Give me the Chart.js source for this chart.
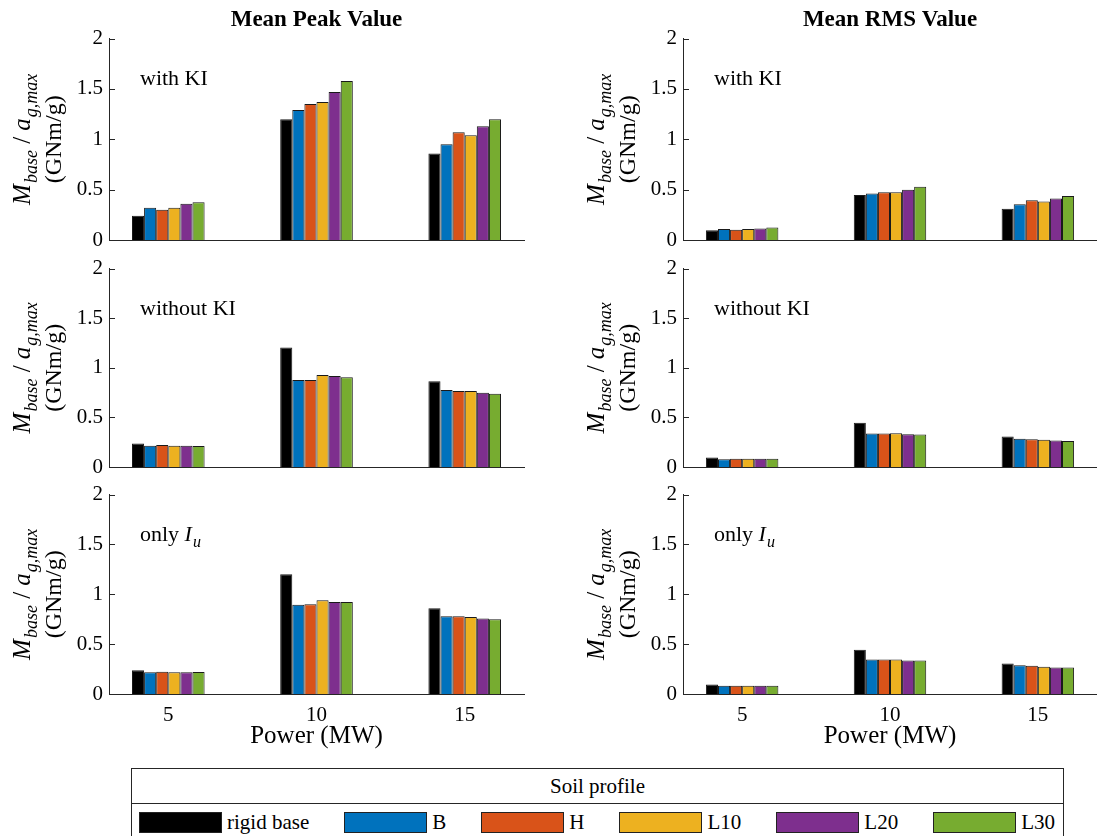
<!DOCTYPE html>
<html>
<head>
<meta charset="utf-8">
<script src="https://cdn.jsdelivr.net/npm/chart.js@4/dist/chart.umd.min.js"></script>
<style>
  html, body { margin: 0; padding: 0; background: #fff; overflow: hidden; }
  body { width: 1097px; height: 836px; position: relative; font-family: "Liberation Serif", "Times New Roman", serif; }
  .panel { position: absolute; }
  #legend {
    position: absolute; left: 131px; top: 768px; width: 933px; height: 90px;
    border: 1px solid #262626; box-sizing: border-box; background: #fff;
  }
  #legend .lg-title {
    height: 34px; line-height: 34px; text-align: center; font-size: 21px;
    border-bottom: 1px solid #262626; color: #000;
  }
  #legend .lg-items {
    display: flex; justify-content: space-between; padding: 6px 8px 0 7px;
  }
  #legend .lg-item { display: flex; align-items: center; font-size: 21px; color: #000; }
  #legend .lg-swatch {
    width: 83px; height: 21px; box-sizing: border-box; border: 1px solid #222; margin-right: 5px;
  }
</style>
</head>
<body>
<div id="legend"></div>
<script>
// Grouped bar panels: mean peak / RMS base moment per turbine power and soil profile

const powers = [5, 10, 15];
const soilProfiles = ['rigid base', 'B', 'H', 'L10', 'L20', 'L30'];
const soilColors = ['#000000', '#0072BD', '#D95319', '#EDB120', '#7E2F8E', '#77AC30'];
const columnTitles = ['Mean Peak Value', 'Mean RMS Value'];
const yTicks = [0, 0.5, 1, 1.5, 2];

// one row per soil profile, one column per power (5, 10, 15 MW)
const peakWithKI = [
    [0.24, 1.20, 0.86],
    [0.32, 1.29, 0.95],
    [0.30, 1.35, 1.07],
    [0.32, 1.37, 1.04],
    [0.36, 1.47, 1.13],
    [0.375, 1.58, 1.20]
];
const rmsWithKI = [
    [0.096, 0.448, 0.31],
    [0.109, 0.461, 0.356],
    [0.102, 0.474, 0.395],
    [0.109, 0.474, 0.382],
    [0.115, 0.50, 0.412],
    [0.125, 0.53, 0.438]
];
const peakWithoutKI = [
    [0.238, 1.205, 0.865],
    [0.215, 0.878, 0.776],
    [0.221, 0.878, 0.766],
    [0.215, 0.927, 0.766],
    [0.215, 0.917, 0.749],
    [0.211, 0.904, 0.739]
];
const rmsWithoutKI = [
    [0.096, 0.446, 0.307],
    [0.079, 0.337, 0.284],
    [0.083, 0.337, 0.280],
    [0.083, 0.340, 0.274],
    [0.083, 0.330, 0.267],
    [0.083, 0.327, 0.261]
];
const peakOnlyIu = [
    [0.237, 1.20, 0.859],
    [0.217, 0.895, 0.78],
    [0.224, 0.901, 0.78],
    [0.217, 0.941, 0.773],
    [0.217, 0.924, 0.757],
    [0.22, 0.924, 0.75]
];
const rmsOnlyIu = [
    [0.095, 0.444, 0.306],
    [0.082, 0.345, 0.289],
    [0.082, 0.345, 0.283],
    [0.082, 0.345, 0.273],
    [0.082, 0.336, 0.266],
    [0.082, 0.336, 0.266]
];

const notes = [
    [{ text: 'with KI' }],
    [{ text: 'without KI' }],
    [{ text: 'only ' }, { text: 'I', italic: true }, { text: 'u', italic: true, sub: true }]
];

const panels = [
    { row: 0, col: 0, values: peakWithKI },
    { row: 0, col: 1, values: rmsWithKI },
    { row: 1, col: 0, values: peakWithoutKI },
    { row: 1, col: 1, values: rmsWithoutKI },
    { row: 2, col: 0, values: peakOnlyIu },
    { row: 2, col: 1, values: rmsOnlyIu }
];

// page layout of the grid (canvases overlap a little, they are transparent)
const columns = [
    { left: 0, width: 530, padRight: 6 },
    { left: 574, width: 523, padRight: 0 }
];
const rows = [
    { top: 0, height: 260, padTop: 0, padBottom: 20 },
    { top: 250, height: 237, padTop: 15, padBottom: 20 },
    { top: 476, height: 275, padTop: 15, padBottom: 0 }
];

const FONT = '"Liberation Serif", "Times New Roman", serif';
const AXIS_COLOR = '#262626';

// draw text made of plain / italic / subscript pieces, left aligned at baseline y
function fontFor(part, size) {
    const s = part.sub ? Math.round(size * 0.72) : size;
    return (part.italic ? 'italic ' : '') + s + 'px ' + FONT;
}
function measureParts(ctx, parts, size) {
    let w = 0;
    parts.forEach(p => {
        ctx.font = fontFor(p, size);
        w += ctx.measureText(p.text).width + (p.italic && !p.sub ? 1 : 0);
    });
    return w;
}
function drawParts(ctx, parts, x, y, size) {
    ctx.textBaseline = 'alphabetic';
    ctx.textAlign = 'left';
    parts.forEach(p => {
        ctx.font = fontFor(p, size);
        const dy = p.sub ? size * 0.28 : 0;
        ctx.fillText(p.text, x, y + dy);
        x += ctx.measureText(p.text).width + (p.italic && !p.sub ? 1 : 0);
    });
}

const yLabelParts = [
    { text: 'M', italic: true },
    { text: 'base', italic: true, sub: true },
    { text: ' / ' },
    { text: 'a', italic: true },
    { text: 'g,max', italic: true, sub: true }
];

// inward y ticks, rotated y label and the panel note
const panelDecor = {
    id: 'panelDecor',
    afterDraw(chart, args, opts) {
        const { ctx, chartArea } = chart;
        const yScale = chart.scales.y;
        ctx.save();
        ctx.strokeStyle = AXIS_COLOR;
        ctx.lineWidth = 1;
        yScale.ticks.forEach(t => {
            const py = Math.round(yScale.getPixelForValue(t.value)) + 0.5;
            ctx.beginPath();
            ctx.moveTo(chartArea.left, py);
            ctx.lineTo(chartArea.left + 6, py);
            ctx.stroke();
        });

        const midY = (chartArea.top + chartArea.bottom) / 2;
        ctx.fillStyle = '#000';
        // first label line
        ctx.save();
        ctx.translate(chartArea.left - 86, midY);
        ctx.rotate(-Math.PI / 2);
        const w1 = measureParts(ctx, yLabelParts, 25);
        drawParts(ctx, yLabelParts, -w1 / 2, 7, 25);
        ctx.restore();
        // second label line
        ctx.save();
        ctx.translate(chartArea.left - 54, midY);
        ctx.rotate(-Math.PI / 2);
        ctx.font = '24px ' + FONT;
        ctx.textAlign = 'center';
        ctx.textBaseline = 'middle';
        ctx.fillText('(GNm/g)', 0, 0);
        ctx.restore();

        if (opts.parts) {
            drawParts(ctx, opts.parts, chartArea.left + 31, chartArea.top + 46, 22);
        }
        ctx.restore();
    }
};

function buildLegend() {
    const legend = document.getElementById('legend');
    const title = document.createElement('div');
    title.className = 'lg-title';
    title.textContent = 'Soil profile';
    legend.appendChild(title);
    const items = document.createElement('div');
    items.className = 'lg-items';
    soilProfiles.forEach((name, i) => {
        const item = document.createElement('div');
        item.className = 'lg-item';
        const sw = document.createElement('span');
        sw.className = 'lg-swatch';
        sw.style.background = soilColors[i];
        item.appendChild(sw);
        const label = document.createElement('span');
        label.textContent = name;
        item.appendChild(label);
        items.appendChild(item);
    });
    legend.appendChild(items);
}

function createPanel(panel) {
    const col = columns[panel.col];
    const row = rows[panel.row];
    const isBottom = panel.row === rows.length - 1;
    const isTop = panel.row === 0;

    const canvas = document.createElement('canvas');
    canvas.className = 'panel';
    canvas.width = col.width;
    canvas.height = row.height;
    canvas.style.left = col.left + 'px';
    canvas.style.top = row.top + 'px';
    canvas.style.width = col.width + 'px';
    canvas.style.height = row.height + 'px';
    document.body.appendChild(canvas);

    const datasets = soilProfiles.map((name, i) => ({
        label: name,
        data: powers.map((p, j) => ({ x: p, y: panel.values[i][j] })),
        backgroundColor: soilColors[i],
        borderColor: '#1a1a1a',
        borderWidth: 1,
        barPercentage: 1,
        categoryPercentage: 0.49
    }));

    new Chart(canvas, {
        type: 'bar',
        data: { datasets: datasets },
        options: {
            responsive: false,
            animation: false,
            events: [],
            layout: {
                padding: { top: row.padTop, bottom: row.padBottom, left: 0, right: col.padRight }
            },
            plugins: {
                legend: { display: false },
                tooltip: { enabled: false },
                title: {
                    display: isTop,
                    text: columnTitles[panel.col],
                    fullSize: false,
                    color: '#000',
                    font: { family: FONT, size: 23, weight: 'bold', lineHeight: 1.2 },
                    padding: { top: 6, bottom: 5 }
                },
                panelDecor: { parts: notes[panel.row] }
            },
            scales: {
                x: {
                    type: 'linear',
                    min: 3,
                    max: 17,
                    offset: false,
                    grid: { display: false, drawTicks: false },
                    border: { display: true, color: AXIS_COLOR, width: 1 },
                    ticks: {
                        display: isBottom,
                        color: '#000',
                        padding: 9,
                        font: { family: FONT, size: 21 }
                    },
                    title: {
                        display: isBottom,
                        text: 'Power (MW)',
                        color: '#000',
                        padding: 0,
                        font: { family: FONT, size: 25 }
                    },
                    afterBuildTicks: scale => {
                        scale.ticks = powers.map(v => ({ value: v }));
                    },
                    afterFit: scale => {
                        scale.height = isBottom ? 57 : 0;
                    }
                },
                y: {
                    min: 0,
                    max: 2,
                    grid: { display: false, drawTicks: false },
                    border: { display: true, color: AXIS_COLOR, width: 1 },
                    ticks: {
                        color: '#000',
                        padding: 6,
                        font: { family: FONT, size: 21 },
                        callback: v => String(v)
                    },
                    afterBuildTicks: scale => {
                        scale.ticks = yTicks.map(v => ({ value: v }));
                    },
                    afterFit: scale => {
                        scale.width = 109;
                    }
                }
            }
        },
        plugins: [panelDecor]
    });
}

buildLegend();
panels.forEach(createPanel);
</script>
</body>
</html>
